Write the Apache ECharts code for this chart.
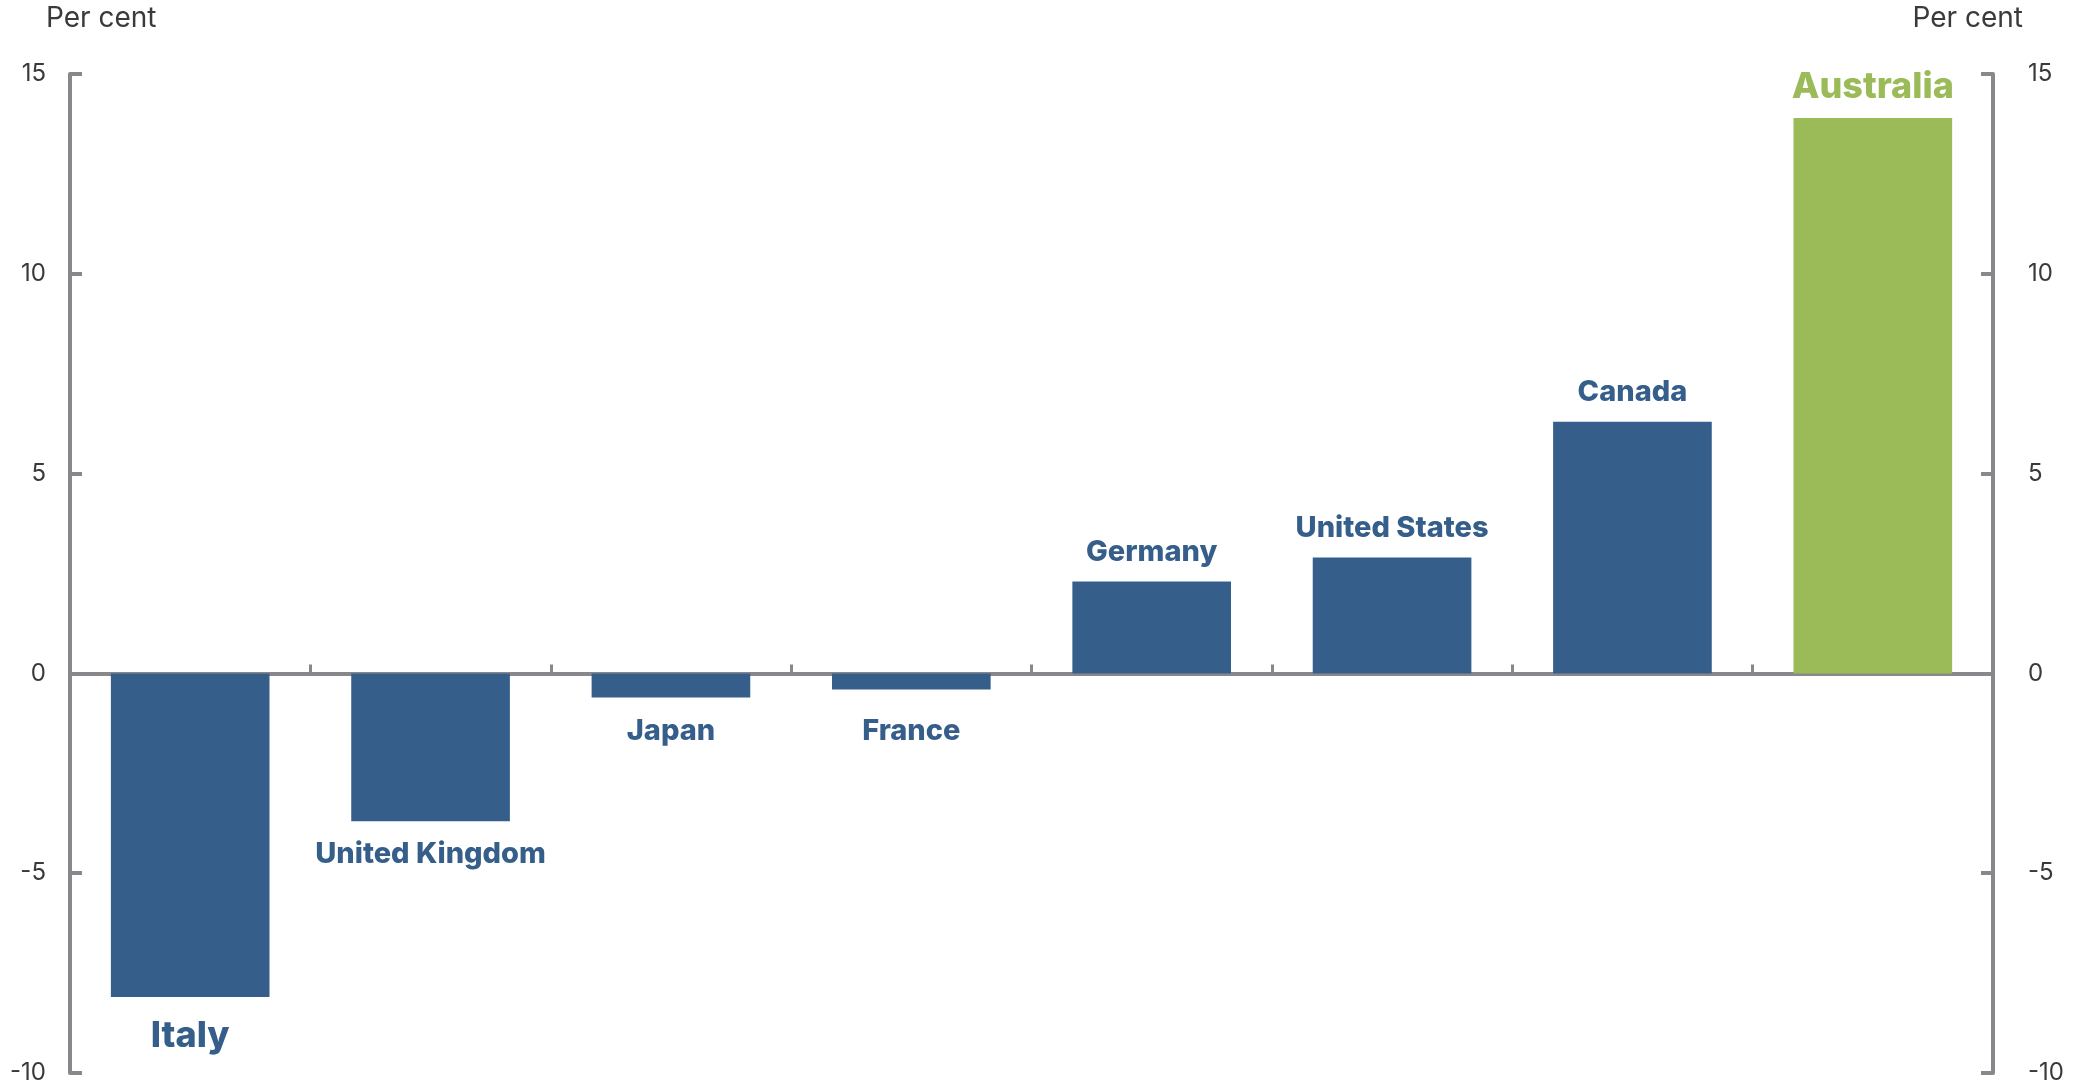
<!DOCTYPE html>
<html>
<head>
<meta charset="utf-8">
<script src="https://cdn.jsdelivr.net/npm/echarts@6/dist/echarts.min.js"></script>
<style>
  html, body { margin: 0; padding: 0; background: #ffffff; }
  #chart { width: 2084px; height: 1085px; }
</style>
</head>
<body>
<div id="chart"></div>
<script>
// ---- Data ----
const categories = ['Italy', 'United Kingdom', 'Japan', 'France', 'Germany', 'United States', 'Canada', 'Australia'];
const values = [-8.1, -3.7, -0.6, -0.4, 2.3, 2.9, 6.3, 13.9];
const yTicks = [-10, -5, 0, 5, 10, 15];
const axisTitle = 'Per cent';
const highlighted = 'Australia';
const emphasised = ['Italy', 'Australia'];

// ---- Styles ----
const BLUE = '#365e8a';
const GREEN = '#9bbb59';
const AXIS = '#88888c';
const TEXT = '#3a3a3a';
const FONT = 'Inter, "Noto Sans", sans-serif';
const labelNudge = { 'France': 8 }; // px, to line up with neighbouring label

const data = categories.map((name, i) => {
  const v = values[i];
  const isHi = name === highlighted;
  const big = emphasised.indexOf(name) >= 0;
  const col = isHi ? GREEN : BLUE;
  return {
    name: name,
    value: v,
    itemStyle: { color: col },
    label: {
      show: true,
      position: v >= 0 ? 'top' : 'bottom',
      distance: v >= 0 ? (big ? 13 : 15) : (big ? 21 : 19),
      offset: [0, labelNudge[name] || 0],
      formatter: '{b}',
      color: col,
      fontFamily: FONT,
      fontWeight: 800,
      fontSize: big ? 36 : 29,
      letterSpacing: big ? -0.8 : -0.3
    }
  };
});

const yAxisCommon = {
  type: 'value',
  min: yTicks[0],
  max: yTicks[yTicks.length - 1],
  interval: yTicks[1] - yTicks[0],
  splitLine: { show: false },
  axisLine: { show: true, lineStyle: { color: AXIS, width: 4 } },
  axisTick: { show: true, inside: true, length: 12, lineStyle: { color: AXIS, width: 4 } },
  axisLabel: { color: TEXT, fontFamily: FONT, fontSize: 24, fontWeight: 400 }
};

const chart = echarts.init(document.getElementById('chart'), null, { renderer: 'canvas' });
chart.setOption({
  animation: false,
  backgroundColor: '#ffffff',
  grid: { left: 70, right: 91, top: 74, bottom: 11, containLabel: false },
  xAxis: {
    type: 'category',
    data: categories,
    axisLine: { show: true, onZero: true, lineStyle: { color: AXIS, width: 4 } },
    axisTick: { show: true, inside: true, length: 9, lineStyle: { color: AXIS, width: 3 } },
    axisLabel: { show: false },
    splitLine: { show: false }
  },
  yAxis: [
    Object.assign({}, yAxisCommon, { position: 'left', axisLabel: Object.assign({}, yAxisCommon.axisLabel, { margin: 24 }) }),
    Object.assign({}, yAxisCommon, { position: 'right', axisLabel: Object.assign({}, yAxisCommon.axisLabel, { margin: 35 }) })
  ],
  graphic: [
    { type: 'text', left: 46, top: 5, style: { text: axisTitle, fill: TEXT, font: '400 28px ' + FONT } },
    { type: 'text', right: 61, top: 5, style: { text: axisTitle, fill: TEXT, font: '400 28px ' + FONT } }
  ],
  series: [{
    type: 'bar',
    data: data,
    barWidth: '66%',
    yAxisIndex: 0
  }]
});
</script>
</body>
</html>
